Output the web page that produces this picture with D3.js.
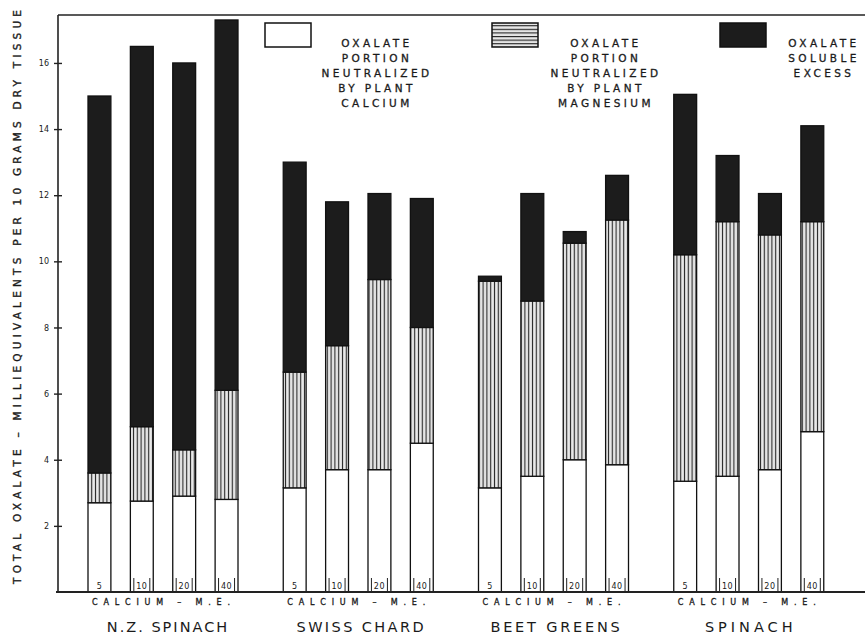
<!DOCTYPE html>
<html>
<head>
<meta charset="utf-8">
<script src="https://cdn.jsdelivr.net/npm/d3@7/dist/d3.min.js"></script>
<style>
  html, body { margin: 0; padding: 0; background: #fff; }
  svg text { font-family: "DejaVu Sans", "Liberation Sans", sans-serif; fill: #1a1a1a; }
</style>
</head>
<body>
<svg id="chart" width="865" height="635"></svg>
<script>
// ---------------- DATA ----------------
const groups = ["N.Z. SPINACH", "SWISS CHARD", "BEET GREENS", "SPINACH"];
const calciumLevels = ["5", "10", "20", "40"];
// milliequivalents per 10 g dry tissue, segment sizes, order: groups x calcium levels
const calciumPortion = [
  2.7, 2.75, 2.9, 2.8,
  3.15, 3.7, 3.7, 4.5,
  3.15, 3.5, 4.0, 3.85,
  3.35, 3.5, 3.7, 4.85
];
const magnesiumPortion = [
  0.9, 2.25, 1.4, 3.3,
  3.5, 3.75, 5.75, 3.5,
  6.25, 5.3, 6.55, 7.4,
  6.85, 7.7, 7.1, 6.35
];
const solubleExcess = [
  11.4, 11.5, 11.7, 11.2,
  6.35, 4.35, 2.6, 3.9,
  0.15, 3.25, 0.35, 1.35,
  4.85, 2.0, 1.25, 2.9
];
const yTicks = [2, 4, 6, 8, 10, 12, 14, 16];
const yTitle = "TOTAL OXALATE – MILLIEQUIVALENTS PER 10 GRAMS DRY TISSUE";
const xSubLabel = "CALCIUM – M.E.";
const legendItems = [
  { key: "calcium", lines: ["OXALATE", "PORTION", "NEUTRALIZED", "BY PLANT", "CALCIUM"] },
  { key: "magnesium", lines: ["OXALATE", "PORTION", "NEUTRALIZED", "BY PLANT", "MAGNESIUM"] },
  { key: "excess", lines: ["OXALATE", "SOLUBLE", "EXCESS"] }
];

// ---------------- TABLE ----------------
const rows = [];
groups.forEach((g, gi) => {
  calciumLevels.forEach((lv, li) => {
    const i = gi * calciumLevels.length + li;
    rows.push({ group: g, level: lv,
      calcium: calciumPortion[i], magnesium: magnesiumPortion[i], excess: solubleExcess[i] });
  });
});
const keys = ["calcium", "magnesium", "excess"];
const stacked = d3.stack().keys(keys)(rows);

// ---------------- LAYOUT ----------------
const svg = d3.select("#chart");
const axisX = 58, baseY = 592, topY = 15;

const y = d3.scaleLinear().domain([0, 17.45]).range([baseY, topY]);
const xGroup = d3.scaleBand().domain(groups).range([88, 869]).paddingInner(0).paddingOuter(0);
const xBar = d3.scaleBand().domain(calciumLevels).range([0, 150]).paddingInner(0.46).paddingOuter(0);

// patterns
const defs = svg.append("defs");
const pv = defs.append("pattern").attr("id", "vhatch").attr("patternUnits", "userSpaceOnUse")
  .attr("width", 3.8).attr("height", 10);
pv.append("rect").attr("width", 3.8).attr("height", 10).attr("fill", "#d9d9d9");
pv.append("rect").attr("x", 0).attr("width", 1).attr("height", 10).attr("fill", "#2a2a2a");
pv.append("rect").attr("x", 2.2).attr("width", 0.6).attr("height", 10).attr("fill", "#f4f4f4");
const ph = defs.append("pattern").attr("id", "hhatch").attr("patternUnits", "userSpaceOnUse")
  .attr("width", 10).attr("height", 3.6);
ph.append("rect").attr("width", 10).attr("height", 3.6).attr("fill", "#e6e6e6");
ph.append("rect").attr("y", 0).attr("width", 10).attr("height", 1.1).attr("fill", "#222");

const fills = { calcium: "#ffffff", magnesium: "url(#vhatch)", excess: "#1c1c1c" };
const legendFills = { calcium: "#ffffff", magnesium: "url(#hhatch)", excess: "#1c1c1c" };

// ---------------- FRAME / AXES ----------------
svg.append("line").attr("x1", axisX).attr("x2", 865).attr("y1", topY).attr("y2", topY)
  .attr("stroke", "#222").attr("stroke-width", 1.6);
svg.append("line").attr("x1", axisX).attr("x2", axisX).attr("y1", topY).attr("y2", baseY)
  .attr("stroke", "#222").attr("stroke-width", 1.6);

const yAxis = d3.axisLeft(y).tickValues(yTicks).tickSize(4).tickPadding(5).tickFormat(d3.format("d"));
const yg = svg.append("g").attr("transform", `translate(${axisX},0)`).call(yAxis);
yg.select(".domain").remove();
yg.selectAll(".tick line").attr("x1", -4).attr("x2", 4).attr("stroke", "#222").attr("stroke-width", 1.4);
yg.selectAll(".tick text").attr("font-size", 8).attr("fill", "#222")
  .attr("font-family", "DejaVu Sans, sans-serif");

// y title
svg.append("text")
  .attr("transform", `translate(21,${(8 + 586) / 2}) rotate(-90)`)
  .attr("text-anchor", "middle")
  .attr("font-size", 10.5)
  .attr("stroke", "#1a1a1a").attr("stroke-width", 0.35)
  .attr("textLength", 574).attr("lengthAdjust", "spacing")
  .text(yTitle);

// ---------------- BARS ----------------
const layers = svg.append("g").selectAll("g").data(stacked).join("g")
  .attr("fill", d => fills[d.key]);
layers.selectAll("rect").data(d => d).join("rect")
  .attr("x", d => xGroup(d.data.group) + xBar(d.data.level))
  .attr("width", xBar.bandwidth())
  .attr("y", d => y(d[1]))
  .attr("height", d => y(d[0]) - y(d[1]))
  .attr("stroke", "#111").attr("stroke-width", 1.3);

// level labels at bar bottoms
const lbl = svg.append("g").selectAll("g").data(rows).join("g")
  .attr("transform", d => `translate(${xGroup(d.group) + xBar(d.level) + xBar.bandwidth() / 2},${baseY})`);
lbl.append("text").attr("y", -3).attr("text-anchor", "middle").attr("font-size", 8)
  .attr("letter-spacing", 0.5).text(d => d.level);
lbl.filter(d => d.level.length > 1).append("line")
  .attr("x1", -8).attr("x2", -8).attr("y1", -14).attr("y2", 0).attr("stroke", "#222").attr("stroke-width", 1);
lbl.filter(d => d.level.length > 1).append("line")
  .attr("x1", 8).attr("x2", 8).attr("y1", -14).attr("y2", 0).attr("stroke", "#222").attr("stroke-width", 1);

// baseline
svg.append("line").attr("x1", axisX - 2).attr("x2", 865).attr("y1", baseY).attr("y2", baseY)
  .attr("stroke", "#222").attr("stroke-width", 1.8);

// group sub labels and names
const gl = svg.append("g").selectAll("g").data(groups).join("g")
  .attr("transform", g => `translate(${xGroup(g) + 73},0)`);
gl.append("text").attr("y", 605).attr("text-anchor", "middle").attr("font-size", 8)
  .attr("stroke", "#1a1a1a").attr("stroke-width", 0.3)
  .attr("textLength", 138).attr("lengthAdjust", "spacing").text(xSubLabel);
gl.append("text").attr("x", (g, i) => [7, 5, 5, 4][i]).attr("y", 632).attr("text-anchor", "middle")
  .attr("font-size", 14.5)
  .attr("letter-spacing", (g, i) => [2.0, 2.4, 2.8, 4.0][i])
  .text(g => g);

// ---------------- LEGEND ----------------
const legendBoxX = [265, 492, 720];
const legendTextX = [377, 606, 824];
const lg = svg.append("g").selectAll("g").data(legendItems).join("g");
lg.append("rect")
  .attr("x", (d, i) => legendBoxX[i]).attr("y", 23).attr("width", 46).attr("height", 24)
  .attr("fill", d => legendFills[d.key]).attr("stroke", "#111").attr("stroke-width", 1.5);
lg.each(function(d, i) {
  const t = d3.select(this).append("text").attr("text-anchor", "middle")
    .attr("font-size", 10.5).attr("letter-spacing", 3.4)
    .attr("stroke", "#1a1a1a").attr("stroke-width", 0.3);
  t.selectAll("tspan").data(d.lines).join("tspan")
    .attr("x", legendTextX[i]).attr("y", (s, j) => 47 + j * 15).text(s => s);
});
</script>
</body>
</html>
